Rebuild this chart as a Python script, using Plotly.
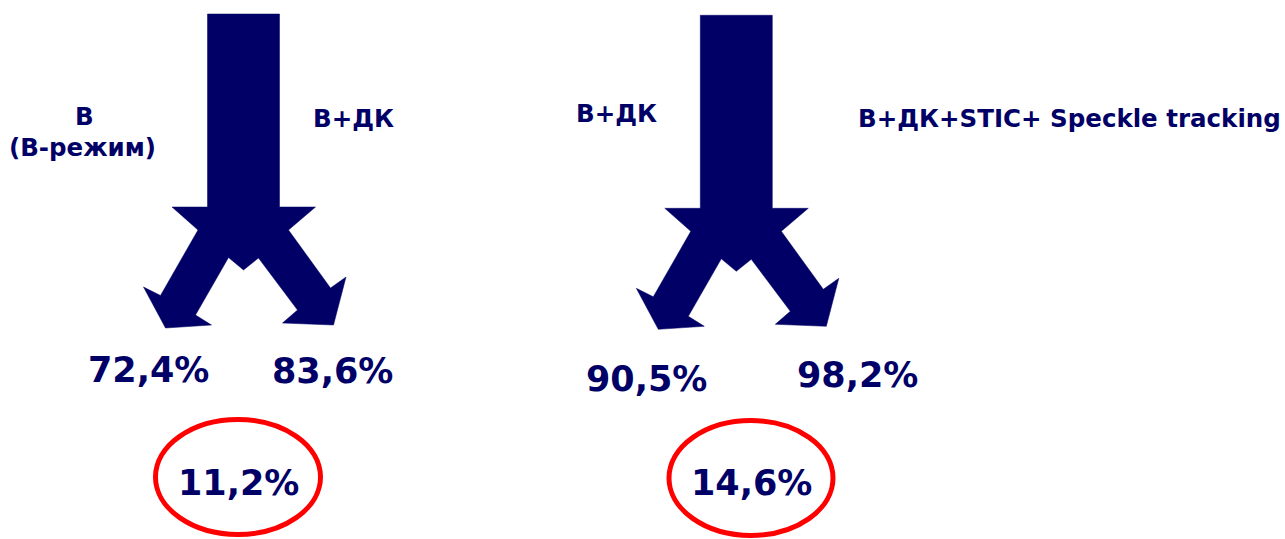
import plotly.graph_objects as go

W, H = 1285, 539
NAVY = "#000066"
RED = "#ff0000"

# ---- data ----
left_labels = ["В", "(В-режим)", "В+ДК"]
right_labels = ["В+ДК", "В+ДК+STIC+ Speckle tracking"]
left_values = ["72,4%", "83,6%"]
right_values = ["90,5%", "98,2%"]
differences = ["11,2%", "14,6%"]

# ---- layout helpers (positions / styles) ----
# forked arrow template: offsets from bottom-centre of the stem
arrow_template = [
    (-36, -193), (36, -193), (36, 0), (72, 0), (45, 23), (87, 81), (102.5, 70),
    (90, 118), (39, 116), (54, 103), (15, 51), (0, 63), (-15, 50.5), (-48, 108),
    (-32, 118), (-78, 121), (-100, 80), (-83, 88.5), (-45.5, 23), (-71.5, 0),
    (-36, 0), (-36, -193),
]
arrow_anchors = [(243.5, 207), (736.3, 208.3)]

fig = go.Figure()
for ax, ay in arrow_anchors:
    fig.add_trace(go.Scatter(
        x=[ax + dx for dx, dy in arrow_template],
        y=[ay + dy for dx, dy in arrow_template],
        mode="lines", fill="toself", fillcolor=NAVY,
        line=dict(color=NAVY, width=0.5), hoverinfo="skip", showlegend=False,
    ))

LBL = dict(family="DejaVu Sans", size=24.5, color=NAVY)
PCT = dict(family="DejaVu Sans", size=35, color=NAVY)

def ann(text, x, y, font):
    fig.add_annotation(text="<b>%s</b>" % text, x=x, y=y, xref="x", yref="y",
                       showarrow=False, xanchor="center", yanchor="middle", font=font)

ann(left_labels[0], 84, 116, LBL)
ann(left_labels[1], 82.5, 147, LBL)
ann(left_labels[2], 353, 118, LBL)
ann(right_labels[0], 616, 113, LBL)
ann(right_labels[1], 1069, 118, LBL)

ann(left_values[0], 148, 370, PCT)
ann(left_values[1], 332, 371, PCT)
ann(right_values[0], 646, 379, PCT)
ann(right_values[1], 857, 375, PCT)

ellipses = [(238, 477, 82.5, 57.5), (751, 478, 82, 57.5)]
for (cx, cy, rx, ry), txt in zip(ellipses, differences):
    fig.add_shape(type="circle", xref="x", yref="y", x0=cx - rx, x1=cx + rx,
                  y0=cy - ry, y1=cy + ry, line=dict(color=RED, width=5))
    ann(txt, cx, 483, PCT)

fig.update_layout(
    width=W, height=H, margin=dict(l=0, r=0, t=0, b=0),
    paper_bgcolor="white", plot_bgcolor="white",
    xaxis=dict(range=[0, W], visible=False, fixedrange=True),
    yaxis=dict(range=[H, 0], visible=False, fixedrange=True),
)
fig.write_html("out.html", config={"displayModeBar": False})
